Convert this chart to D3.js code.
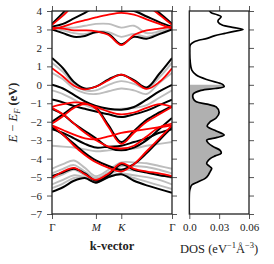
<!DOCTYPE html>
<html>
<head>
<meta charset="utf-8">
<script src="https://cdn.jsdelivr.net/npm/d3@7"></script>
<style>
  body { margin: 0; background: #fff; }
  svg { display: block; font-family: "Liberation Serif", "DejaVu Serif", serif; }
</style>
</head>
<body>
<svg id="chart" width="274" height="264"></svg>
<script>
// k-path: Γ -> M -> K -> Γ (hexagonal, |ΓM| = 1)
const kPath = [0, 0.25, 0.5, 0.75, 1, 1.289, 1.577, 1.866, 2.155, 2.443, 2.732];
const kTicks = [0, 1, 1.577, 2.732];
const kLabels = ['Γ', 'M', 'K', 'Γ'];
const energyTicks = [-7, -6, -5, -4, -3, -2, -1, 0, 1, 2, 3, 4];
const dosTicks = [0, 0.03, 0.06];
const dosTickLabels = ['0.0', '0.03', '0.06'];

// band energies (eV) at each kPath point
const grayBands = [
  [3.05, 2.95, 2.8, 2.75, 2.9, 2.85, 2.6, 2.75, 2.6, 2.8, 3.05],
  [3.1, 3.1, 3.1, 3.2, 3.3, 3.3, 3.1, 3.2, 2.8, 2.9, 3.1],
  [1.2, 0.7, 0.05, -0.3, -0.3, 0.0, 0.2, 0.05, -0.2, 0.4, 1.2],
  [0.65, 0.3, -0.2, -0.45, -0.5, -0.35, -0.2, -0.3, -0.5, 0.1, 0.65],
  [-0.3, -0.5, -0.8, -1.1, -1.3, -1.35, -1.3, -1.25, -1.1, -0.7, -0.3],
  [-3.3, -3.35, -3.4, -3.5, -3.6, -3.55, -3.5, -3.45, -3.3, -3.2, -3.1],
  [-4.55, -4.3, -4.1, -4.5, -4.95, -4.6, -4.2, -4.2, -4.25, -4.4, -4.55],
  [-4.8, -4.55, -4.35, -4.7, -5.05, -4.75, -4.4, -4.4, -4.45, -4.6, -4.8],
  [-5.1, -4.85, -4.6, -4.9, -5.15, -4.85, -4.6, -4.65, -4.7, -4.85, -5.05],
  [-5.4, -5.15, -4.9, -5.0, -5.25, -4.95, -4.8, -4.9, -5.0, -5.15, -5.4],
  [-5.6, -5.35, -5.05, -5.05, -5.3, -5.0, -4.85, -5.05, -5.25, -5.45, -5.65]
];

const blackBands = [
  [3.0, 2.8, 2.6, 2.65, 2.85, 2.75, 2.2, 2.6, 2.5, 2.75, 3.0],
  [3.15, 3.3, 3.6, 3.9, 4.2, 4.1, 4.0, 4.0, 3.7, 3.4, 3.15],
  [3.3, 3.9, 4.5, 4.8, 4.8, 4.7, 4.6, 4.7, 4.4, 3.9, 3.3],
  [1.45, 0.9, 0.15, -0.2, -0.1, 0.3, 0.55, 0.25, -0.15, 0.6, 1.45],
  [0.0, -0.2, -0.55, -0.9, -1.15, -1.3, -1.35, -1.2, -0.8, -0.35, 0.0],
  [-0.8, -0.95, -1.15, -1.3, -1.45, -1.6, -1.75, -1.6, -1.4, -1.1, -0.8],
  [-2.0, -1.6, -1.2, -1.0, -1.25, -2.2, -3.1, -2.5, -1.9, -1.5, -1.15],
  [-1.3, -1.6, -2.1, -2.5, -2.9, -3.4, -3.55, -3.4, -3.0, -2.4, -1.8],
  [-2.4, -2.6, -2.9, -3.2, -3.4, -3.35, -3.3, -3.1, -2.9, -2.6, -2.4],
  [-2.3, -2.7, -3.2, -3.7, -4.1, -4.4, -4.6, -4.3, -3.7, -3.0, -2.3],
  [-4.95, -4.75, -4.55, -4.8, -5.2, -4.9, -4.3, -4.6, -4.75, -4.9, -5.0],
  [-5.8, -5.55, -5.2, -5.05, -5.3, -5.0, -4.85, -5.2, -5.45, -5.65, -5.85]
];

const redBands = [
  [3.1, 3.05, 2.95, 2.95, 2.9, 2.7, 2.15, 2.7, 2.95, 3.05, 3.15],
  [3.0, 3.15, 3.35, 3.5, 3.65, 3.8, 3.9, 3.8, 3.55, 3.3, 3.05],
  [3.25, 3.75, 4.3, 4.6, 4.7, 4.6, 4.5, 4.6, 4.3, 3.8, 3.25],
  [0.9, 0.45, -0.05, -0.25, -0.1, 0.25, 0.55, 0.2, -0.22, 0.15, 0.9],
  [-1.2, -1.05, -0.95, -1.0, -1.2, -1.45, -1.6, -1.5, -1.25, -1.05, -1.2],
  [-2.1, -1.7, -1.25, -1.05, -1.3, -2.3, -3.2, -2.6, -2.0, -1.6, -1.2],
  [-1.25, -1.6, -2.1, -2.6, -3.0, -3.35, -3.45, -3.3, -2.8, -2.3, -2.1],
  [-2.2, -2.45, -2.7, -2.9, -2.95, -2.8, -2.6, -2.5, -2.4, -2.3, -2.2],
  [-2.2, -2.7, -3.3, -3.8, -4.2, -4.5, -4.7, -4.3, -3.6, -2.9, -2.2],
  [-5.05, -4.7, -4.5, -4.85, -5.15, -4.8, -4.25, -4.55, -4.7, -4.8, -4.95]
];

// density of states (eV^-1 Å^-3) against energy (eV)
const dosEnergy = [4.3, 3.93, 3.8, 3.69, 3.5, 3.4, 3.24, 3.1, 3.0, 2.9, 2.79, 2.65, 2.52, 2.34, 2.16,
  1.8, 1.2, 0.8, 0.53, 0.26, 0.08, 0.0, -0.1, -0.2, -0.3, -0.5, -0.75, -0.92, -1.05, -1.2, -1.5, -1.8,
  -2.0, -2.25, -2.5, -2.72, -2.85, -3.0, -3.15, -3.35, -3.55, -3.71, -3.85, -4.0, -4.26, -4.4, -4.53,
  -4.7, -4.9, -5.07, -5.25, -5.43, -5.6, -5.75, -6.0, -7.2];
const dosValue = [0.018, 0.0215, 0.028, 0.032, 0.029, 0.029, 0.033, 0.045, 0.054, 0.045, 0.036, 0.025, 0.018, 0.005, 0.001,
  0.0005, 0.001, 0.0025, 0.007, 0.019, 0.031, 0.034, 0.035, 0.026, 0.012, 0.004, 0.004, 0.007, 0.018, 0.027, 0.030, 0.027,
  0.021, 0.018, 0.027, 0.035, 0.028, 0.0175, 0.019, 0.024, 0.031, 0.032, 0.026, 0.021, 0.0175, 0.02, 0.0225,
  0.021, 0.019, 0.016, 0.009, 0.0025, 0.001, 0.0003, 0, 0];

const band = {left: 52, right: 172, top: 11, bottom: 214};
const dos = {left: 189.3, right: 249};

const svg = d3.select('#chart');

const x = d3.scaleLinear().domain([0, 2.732]).range([band.left, band.right]);
const y = d3.scaleLinear().domain([-7, 4]).range([band.bottom, band.top]);
const xd = d3.scaleLinear().domain([0, 0.06]).range([dos.left, dos.right]);

const defs = svg.append('defs');
defs.append('clipPath').attr('id', 'clipBand')
  .append('rect')
  .attr('x', band.left).attr('y', band.top)
  .attr('width', band.right - band.left).attr('height', band.bottom - band.top);
defs.append('clipPath').attr('id', 'clipDos')
  .append('rect')
  .attr('x', dos.left).attr('y', band.top)
  .attr('width', dos.right - dos.left).attr('height', band.bottom - band.top);
defs.append('clipPath').attr('id', 'clipFill')
  .append('rect')
  .attr('x', dos.left).attr('y', y(0))
  .attr('width', dos.right - dos.left).attr('height', band.bottom - y(0));

// bands
const bandLine = d3.line()
  .x((d, i) => x(kPath[i]))
  .y(d => y(d))
  .curve(d3.curveCatmullRom.alpha(0.5));

const gBands = svg.append('g').attr('clip-path', 'url(#clipBand)');
const sets = [
  {data: grayBands, color: '#bdbdbd', w: 1.9},
  {data: blackBands, color: '#000', w: 2.0},
  {data: redBands, color: '#ff0000', w: 1.8}
];
sets.forEach(s => {
  gBands.selectAll(null)
    .data(s.data)
    .enter()
    .append('path')
    .attr('d', bandLine)
    .attr('fill', 'none')
    .attr('stroke', s.color)
    .attr('stroke-width', s.w);
});

// DOS
const dosPts = dosEnergy.map((e, i) => ({e: e, v: dosValue[i]}));
const gDos = svg.append('g').attr('clip-path', 'url(#clipDos)');
gDos.append('path')
  .datum(dosPts)
  .attr('clip-path', 'url(#clipFill)')
  .attr('fill', '#b0b0b0')
  .attr('d', d3.area()
    .y(d => y(d.e))
    .x0(xd(0))
    .x1(d => xd(d.v))
    .curve(d3.curveCatmullRom.alpha(0.5)));
gDos.append('path')
  .datum(dosPts)
  .attr('fill', 'none')
  .attr('stroke', '#000')
  .attr('stroke-width', 1.7)
  .attr('d', d3.line()
    .y(d => y(d.e))
    .x(d => xd(d.v))
    .curve(d3.curveCatmullRom.alpha(0.5)));

// axes
const fmt = d => (d < 0 ? '\u2212' + Math.abs(d) : d);
function styleAxis(g) {
  g.select('.domain').remove();
  g.selectAll('.tick line').attr('stroke', '#555').attr('stroke-width', 1);
  g.selectAll('.tick text').attr('fill', '#222').style('font-size', '11px')
    .style('font-family', '"Liberation Serif", serif');
}

svg.append('g')
  .attr('transform', `translate(${band.left},0)`)
  .call(d3.axisLeft(y).tickValues(energyTicks).tickSize(5).tickPadding(5).tickFormat(fmt))
  .call(styleAxis);
svg.append('g')
  .attr('transform', `translate(${band.right},0)`)
  .call(d3.axisRight(y).tickValues(energyTicks).tickSize(5).tickFormat(''))
  .call(styleAxis);
svg.append('g')
  .attr('transform', `translate(0,${band.bottom})`)
  .call(d3.axisBottom(x).tickValues(kTicks).tickSize(5).tickPadding(4).tickFormat((d, i) => kLabels[i]))
  .call(styleAxis)
  .selectAll('.tick text')
  .style('font-style', (d, i) => (kLabels[i] === 'Γ' ? 'normal' : 'italic'));
svg.append('g')
  .attr('transform', `translate(0,${band.top})`)
  .call(d3.axisTop(x).tickValues(kTicks).tickSize(5).tickFormat(''))
  .call(styleAxis);

svg.append('g')
  .attr('transform', `translate(${dos.right},0)`)
  .call(d3.axisRight(y).tickValues(energyTicks).tickSize(5).tickFormat(''))
  .call(styleAxis);
svg.append('g')
  .attr('transform', `translate(0,${band.bottom})`)
  .call(d3.axisBottom(xd).tickValues(dosTicks).tickSize(5).tickPadding(4).tickFormat((d, i) => dosTickLabels[i]))
  .call(styleAxis);
svg.append('g')
  .attr('transform', `translate(0,${band.top})`)
  .call(d3.axisTop(xd).tickValues(dosTicks).tickSize(5).tickFormat(''))
  .call(styleAxis);

// spines
[[band.left, band.right], [dos.left, dos.right]].forEach(p => {
  svg.append('rect')
    .attr('x', p[0]).attr('y', band.top)
    .attr('width', p[1] - p[0]).attr('height', band.bottom - band.top)
    .attr('fill', 'none').attr('stroke', '#222').attr('stroke-width', 1.3);
});

// labels
svg.append('text')
  .attr('x', (band.left + band.right) / 2)
  .attr('y', 250)
  .attr('text-anchor', 'middle')
  .style('font-size', '12.5px')
  .style('font-weight', 'bold')
  .attr('fill', '#222')
  .text('k-vector');

const dl = svg.append('text')
  .attr('x', (dos.left + dos.right) / 2)
  .attr('y', 253)
  .attr('text-anchor', 'middle')
  .style('font-size', '12.5px')
  .attr('fill', '#222');
dl.append('tspan').text('DOS (eV');
dl.append('tspan').attr('dy', -5).style('font-size', '8.5px').text('\u22121');
dl.append('tspan').attr('dy', 5).text('Å');
dl.append('tspan').attr('dy', -5).style('font-size', '8.5px').text('\u22123');
dl.append('tspan').attr('dy', 5).text(')');

const yl = svg.append('text')
  .attr('transform', `translate(17,${(band.top + band.bottom) / 2}) rotate(-90)`)
  .attr('text-anchor', 'middle')
  .style('font-size', '12.5px')
  .attr('fill', '#222');
yl.append('tspan').style('font-style', 'italic').text('E');
yl.append('tspan').text(' \u2212 ');
yl.append('tspan').style('font-style', 'italic').text('E');
yl.append('tspan').attr('dy', 3).style('font-style', 'italic').style('font-size', '8.5px').text('F');
yl.append('tspan').attr('dy', -3).style('font-weight', 'bold').text(' (eV)');
</script>
</body>
</html>
